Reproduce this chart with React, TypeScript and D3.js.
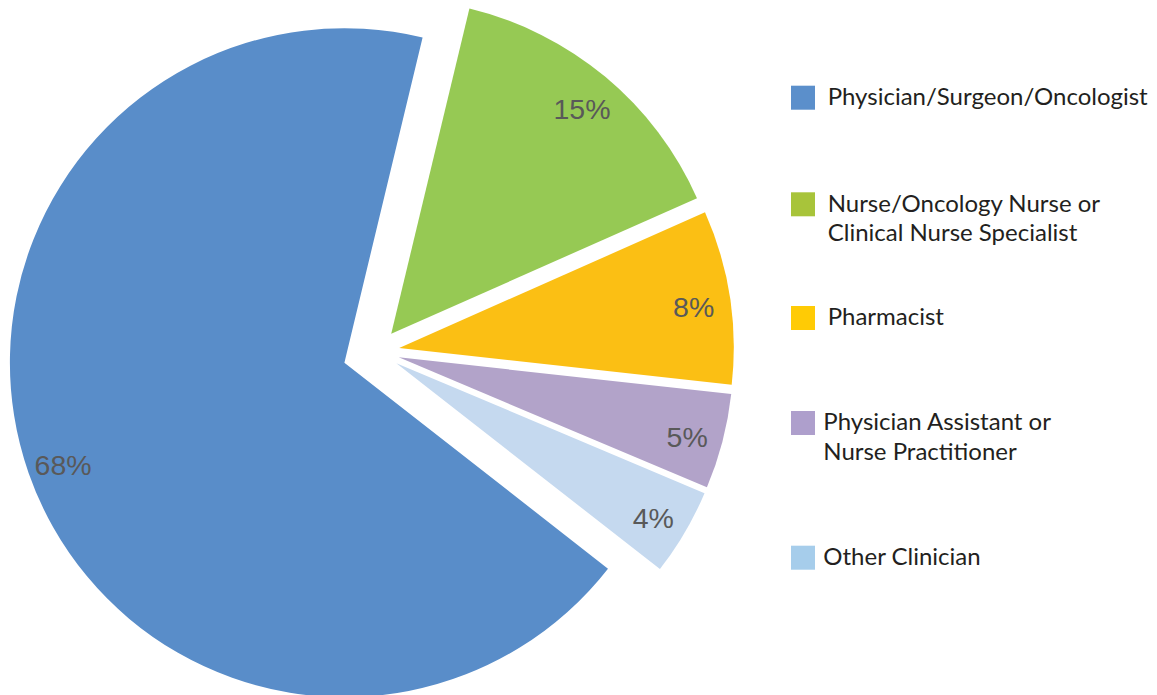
import React from "react";
import * as d3 from "d3";

const categories: string[][] = [
  ["Physician/Surgeon/Oncologist"],
  ["Nurse/Oncology Nurse or", "Clinical Nurse Specialist"],
  ["Pharmacist"],
  ["Physician Assistant or", "Nurse Practitioner"],
  ["Other Clinician"],
];
const values = [68.2, 14.6, 8.4, 4.6, 4.2];
const valueLabels = ["68%", "15%", "8%", "5%", "4%"];
const sliceColors = ["#598DC9", "#96C954", "#FBBF14", "#B2A3C9", "#C5D9EF"];
const swatchColors = ["#5B8FCB", "#A8C43A", "#FFCB05", "#AE9FCC", "#A6CDEB"];
const explode = [34, 23, 23, 23, 23];
const legendY = [85.7, 192.3, 306, 411, 545.7];
const legendTextX = [827.7, 827.7, 827.7, 823.3, 823.3];

const W = 1157;
const H = 695;
const cx = 376.5;
const cy = 351.5;
const R = 334.5;
const labelR = 298;

export default function App() {
  const pie = d3
    .pie<number>()
    .sort(null)
    .startAngle((128 * Math.PI) / 180)
    .endAngle((488 * Math.PI) / 180);
  const arcs = pie(values);
  const arc = d3.arc<d3.PieArcDatum<number>>().innerRadius(0).outerRadius(R);

  return (
    <svg
      width={W}
      height={H}
      style={{ position: "absolute", left: 0, top: 0, background: "#fff" }}
    >
      <g transform={`translate(${cx},${cy})`}>
        {arcs.map((a, i) => {
          const mid = (a.startAngle + a.endAngle) / 2;
          const dx = Math.sin(mid) * explode[i];
          const dy = -Math.cos(mid) * explode[i];
          const lx = dx + Math.sin(mid) * labelR;
          const ly = dy - Math.cos(mid) * labelR;
          return (
            <g key={i}>
              <path
                d={arc(a) || ""}
                transform={`translate(${dx},${dy})`}
                fill={sliceColors[i]}
              />
              <text
                x={lx}
                y={ly}
                dy="0.5em"
                textAnchor="middle"
                fontFamily="'Liberation Sans', Arial, sans-serif"
                fontSize={28.5}
                fill="#595959"
              >
                {valueLabels[i]}
              </text>
            </g>
          );
        })}
      </g>
      <g>
        {categories.map((lines, i) => (
          <g key={i}>
            <rect x={791} y={legendY[i]} width={24} height={24} fill={swatchColors[i]} />
            {lines.map((ln, j) => (
              <text
                key={j}
                x={legendTextX[i]}
                y={legendY[i] + 19.3 + j * 29.3}
                fontFamily="Lato, 'Open Sans', sans-serif"
                fontSize={24}
                fill="#231F20"
              >
                {ln}
              </text>
            ))}
          </g>
        ))}
      </g>
    </svg>
  );
}
